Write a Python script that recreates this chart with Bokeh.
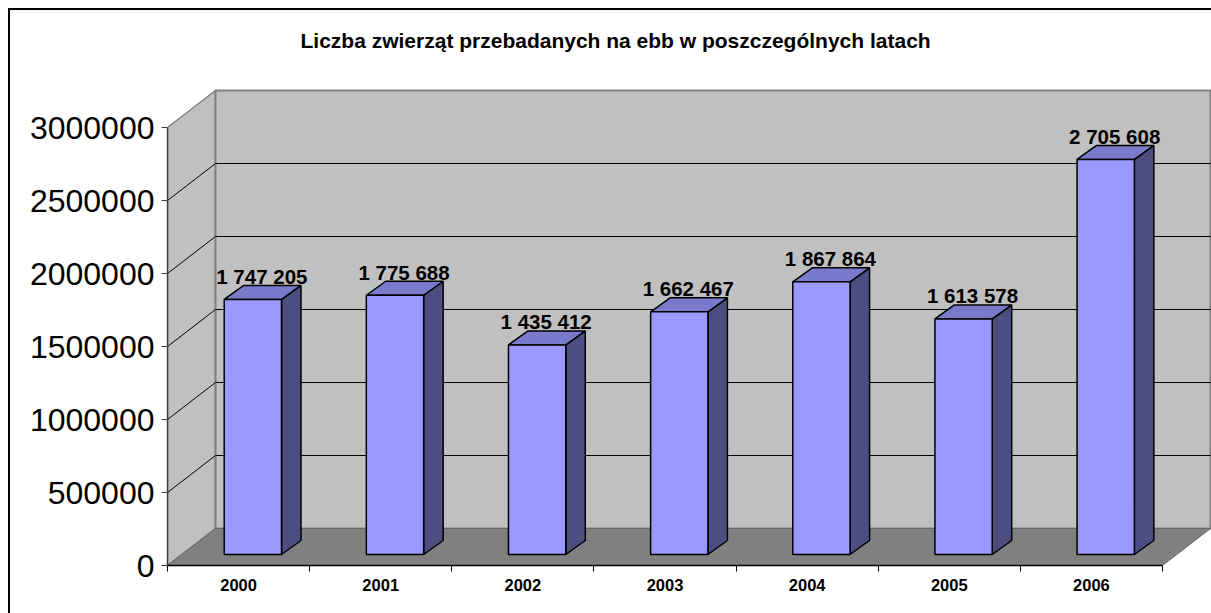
from bokeh.plotting import figure
from bokeh.models import FixedTicker, BasicTickFormatter, Range1d
from bokeh.core.properties import value
from bokeh.embed import file_html
from bokeh.resources import INLINE

title = "Liczba zwierząt przebadanych na ebb w poszczególnych latach"
years = ["2000", "2001", "2002", "2003", "2004", "2005", "2006"]
animals = [1747205, 1775688, 1435412, 1662467, 1867864, 1613578, 2705608]
value_ticks = [0, 500000, 1000000, 1500000, 2000000, 2500000, 3000000]
labels = [f"{v:,}".replace(",", " ") for v in animals]

FONT = "Liberation Sans"
W, H = 1211, 613
LEFT, TOP, BOTTOM = 167, 60, 48
FRAME_W, FRAME_H = W - LEFT, H - TOP - BOTTOM
PX_X = 995 / 7            # pixels per category
PX_Y = 438 / 3000000      # pixels per unit

def dx(px):
    return px / PX_X

def dy(px):
    return px / PX_Y

p = figure(width=W, height=H, output_backend="svg", toolbar_location=None,
           x_range=Range1d(0, FRAME_W / PX_X), y_range=Range1d(0, FRAME_H / PX_Y),
           min_border_left=LEFT, min_border_right=0, min_border_top=TOP, min_border_bottom=BOTTOM,
           outline_line_color=None, background_fill_color="white", border_fill_color=None)
# chart frame: only its top and left edges fall inside the window
p.styles = {"background": "linear-gradient(black,black) 8px 8px/1203px 2px no-repeat, "
                          "linear-gradient(black,black) 8px 8px/2px 605px no-repeat, white"}
p.xgrid.visible = False
p.ygrid.visible = False

p.title.text = title
p.title.text_font = FONT
p.title.text_font_size = "21px"
p.title.text_font_style = "bold"
p.title.text_color = "black"
p.title.align = "left"
p.title.offset = 133
p.title.standoff = 17

depth_x, depth_y = dx(48), dy(37)
n = len(years)
top_v = value_ticks[-1]

# walls and floor
p.patch([0, depth_x, depth_x, 0], [0, depth_y, top_v + depth_y, top_v],
        fill_color="#C0C0C0", line_color="#808080", line_width=1.5)
p.patch([depth_x, n + depth_x, n + depth_x, depth_x],
        [depth_y, depth_y, top_v + depth_y, top_v + depth_y],
        fill_color="#C0C0C0", line_color="#808080", line_width=2)
p.patch([0, n, n + depth_x, depth_x], [0, 0, depth_y, depth_y],
        fill_color="#808080", line_color="#666666", line_width=1)

# grid lines on both walls
for t in value_ticks[1:-1]:
    p.line([0, depth_x, n + depth_x], [t, t + depth_y, t + depth_y],
           line_color="black", line_width=1)

# 3D bars
side_x, side_y = dx(19.5), dy(14)
bar_x0, bar_w, bar_base = dx(56.7), dx(57.3), dy(11)
for i, v in enumerate(animals):
    x0 = i + bar_x0
    x1 = x0 + bar_w
    y0 = bar_base
    y1 = bar_base + v
    p.patch([x1, x1 + side_x, x1 + side_x, x1], [y0, y0 + side_y, y1 + side_y, y1],
            fill_color="#4D4D80", line_color="black", line_width=1.5)
    p.patch([x0, x1, x1 + side_x, x0 + side_x], [y1, y1, y1 + side_y, y1 + side_y],
            fill_color="#7A7ACC", line_color="black", line_width=1.5)
    p.patch([x0, x1, x1, x0], [y0, y0, y1, y1],
            fill_color="#9999FF", line_color="black", line_width=1.5)

# data labels
label_x = [i + bar_x0 + bar_w / 2 + dx(9) for i in range(n)]
label_y = [v + bar_base + dy(16) for v in animals]
p.text(label_x, label_y, text=labels, text_font=value(FONT), text_font_size="20.5px",
       text_font_style="bold", text_color="black", text_align="center", text_baseline="middle",
       y_offset=-7)

# axes
xaxis = p.xaxis[0]
xaxis.bounds = (0, n)
xaxis.ticker = FixedTicker(ticks=[i + 0.5 for i in range(n)], minor_ticks=list(range(n + 1)))
xaxis.major_label_overrides = {i + 0.5: years[i] for i in range(n)}
xaxis.major_tick_in = 0
xaxis.major_tick_out = 0
xaxis.minor_tick_in = 0
xaxis.minor_tick_out = 6
xaxis.minor_tick_line_color = "black"
xaxis.minor_tick_line_width = 1
xaxis.axis_line_color = "black"
xaxis.axis_line_width = 1.5
xaxis.major_label_text_font = FONT
xaxis.major_label_text_font_size = "16.5px"
xaxis.major_label_text_font_style = "bold"
xaxis.major_label_text_color = "black"
xaxis.major_label_standoff = 7

yaxis = p.yaxis[0]
yaxis.bounds = (0, top_v)
yaxis.ticker = FixedTicker(ticks=value_ticks)
yaxis.formatter = BasicTickFormatter(use_scientific=False)
yaxis.major_tick_in = 0
yaxis.major_tick_out = 6
yaxis.minor_tick_in = 0
yaxis.minor_tick_out = 0
yaxis.major_tick_line_color = "#404040"
yaxis.axis_line_color = "#404040"
yaxis.axis_line_width = 1.5
yaxis.major_label_text_font = FONT
yaxis.major_label_text_font_size = "32px"
yaxis.major_label_text_color = "black"
yaxis.major_label_standoff = 7

open("out.html", "w").write(file_html(p, INLINE))
